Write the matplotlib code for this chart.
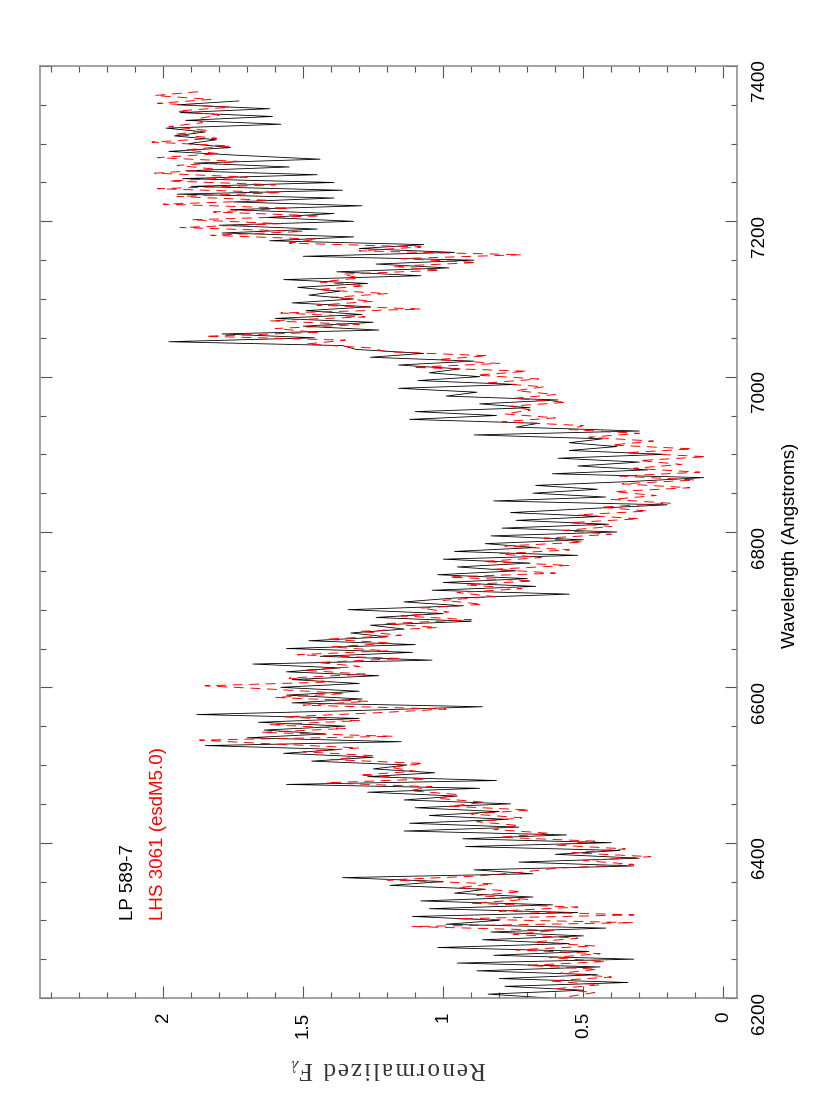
import numpy as np
import matplotlib.pyplot as plt
from matplotlib.ticker import MultipleLocator

plt.rcParams['font.family'] = ['Liberation Sans', 'DejaVu Sans']
plt.rcParams['mathtext.fontset'] = 'stix'

# Wavelength grids (Angstroms)
wave_lp = np.arange(6200, 7356, 5)
wave_lhs = np.arange(6202, 7368, 5)

# LP 589-7, renormalized flux
flux_lp = [
    0.62, 0.84, 0.50, 0.78, 0.34, 0.80, 0.45, 0.88, 0.44, 0.95,
    0.32, 0.82, 0.48, 1.02, 0.55, 0.86, 0.50, 0.83, 0.42, 0.99,
    0.80, 1.11, 0.52, 1.05, 0.61, 1.08, 0.68, 0.96, 0.85, 1.19,
    1.00, 1.36, 0.68, 0.89, 0.32, 0.73, 0.30, 0.60, 0.37, 0.92,
    0.40, 0.93, 0.56, 1.14, 0.73, 1.12, 0.77, 1.05, 0.80, 1.10,
    0.76, 1.14, 0.95, 1.27, 0.87, 1.56, 0.81, 1.27, 1.03, 1.25,
    1.13, 1.47, 1.25, 1.57, 1.37, 1.85, 1.15, 1.70, 1.42, 1.64,
    1.35, 1.66, 1.30, 1.88, 1.32, 0.86, 1.54, 1.29, 1.56, 1.30,
    1.58, 1.30, 1.54, 1.23, 1.56, 1.37, 1.68, 1.04, 1.44, 1.11,
    1.56, 1.10, 1.48, 1.20, 1.33, 1.14, 1.26, 0.90, 1.24, 1.00,
    1.34, 0.93, 1.14, 0.96, 0.55, 1.04, 0.67, 1.00, 0.70, 1.02,
    0.74, 0.95, 0.69, 1.00, 0.52, 0.96, 0.67, 0.85, 0.50, 0.83,
    0.38, 0.79, 0.41, 0.74, 0.44, 0.76, 0.49, 0.20, 0.82, 0.42,
    0.68, 0.45, 0.67, 0.33, 0.07, 0.61, 0.27, 0.52, 0.30, 0.59,
    0.21, 0.55, 0.38, 0.55, 0.43, 0.89, 0.30, 0.74, 0.66, 1.12,
    0.81, 1.10, 0.69, 0.87, 0.59, 0.99, 0.88, 1.16, 0.74, 1.09,
    0.87, 1.05, 0.94, 1.16, 0.89, 1.26, 1.07, 1.31, 1.36, 1.98,
    1.46, 1.79, 1.23, 1.50, 1.25, 1.60, 1.29, 1.49, 1.26, 1.54,
    1.32, 1.48, 1.37, 1.52, 1.27, 1.57, 1.08, 1.38, 0.98, 1.24,
    0.89, 1.50, 0.96, 1.30, 1.07, 1.62, 1.32, 1.79, 1.45, 1.80,
    1.32, 1.63, 1.39, 1.76, 1.29, 1.75, 1.39, 1.95, 1.36, 1.90,
    1.39, 1.93, 1.45, 1.92, 1.55, 1.89, 1.44, 1.73, 1.98, 1.76,
    1.91, 1.81, 1.96, 1.85, 1.99, 1.58, 1.92, 1.61, 1.94, 1.62,
    1.95, 1.73,
]

# LHS 3061 (esdM5.0), renormalized flux
flux_lhs = [
    0.55, 0.46, 0.60, 0.44, 0.62, 0.40, 0.58, 0.45, 0.70, 0.42,
    0.62, 0.44, 0.74, 0.46, 0.68, 0.52, 0.75, 0.60, 1.11, 0.32,
    0.95, 0.32, 0.80, 0.52, 0.90, 0.70, 0.88, 0.72, 0.95, 0.82,
    1.20, 0.88, 0.72, 0.60, 0.32, 0.50, 0.26, 0.54, 0.35, 0.60,
    0.46, 0.80, 0.62, 0.82, 0.73, 0.88, 0.72, 0.90, 0.69, 0.98,
    0.85, 1.02, 0.95, 1.12, 1.04, 1.42, 1.06, 1.30, 1.10, 1.19,
    1.07, 1.40, 1.25, 1.50, 1.30, 1.60, 1.87, 1.18, 1.65, 1.35,
    1.62, 1.30, 1.57, 1.25, 0.99, 1.50, 1.27, 1.60, 1.35, 1.58,
    1.85, 1.40, 1.55, 1.28, 1.50, 1.30, 1.45, 1.15, 1.52, 1.20,
    1.40, 1.18, 1.42, 1.15, 1.30, 1.02, 1.21, 0.90, 1.15, 0.98,
    1.08, 0.86, 1.00, 0.82, 0.95, 0.72, 0.92, 0.68, 0.98, 0.60,
    0.82, 0.55, 0.86, 0.65, 0.80, 0.55, 0.78, 0.50, 0.64, 0.40,
    0.57, 0.40, 0.55, 0.30, 0.52, 0.27, 0.44, 0.19, 0.40, 0.24,
    0.39, 0.12, 0.36, 0.10, 0.37, 0.085, 0.32, 0.15, 0.30, 0.06,
    0.35, 0.11, 0.40, 0.25, 0.48, 0.30, 0.55, 0.50, 0.79, 0.60,
    0.78, 0.69, 0.76, 0.56, 0.75, 0.60, 0.74, 0.64, 0.84, 0.66,
    0.88, 0.70, 1.11, 0.80, 1.02, 0.84, 1.20, 1.26, 1.49, 1.35,
    1.85, 1.45, 1.60, 1.30, 1.62, 1.28, 1.58, 1.08, 1.45, 1.25,
    1.40, 1.20, 1.45, 1.28, 1.44, 1.30, 1.36, 1.01, 1.18, 0.88,
    1.15, 0.72, 1.30, 1.08, 1.55, 1.45, 1.83, 1.50, 1.94, 1.58,
    1.90, 1.44, 1.82, 1.55, 2.00, 1.62, 1.95, 1.58, 2.02, 1.60,
    1.98, 1.70, 2.03, 1.81, 1.95, 1.72, 2.02, 1.80, 1.92, 1.76,
    2.04, 1.81, 1.96, 1.84, 1.98, 1.86, 1.88, 1.80, 1.95, 1.76,
    2.02, 1.83, 2.03, 1.87,
]

flux_ticks = [0, 0.5, 1, 1.5, 2]
flux_ticklabels = ['0', '0.5', '1', '1.5', '2']
wave_ticks = [6200, 6400, 6600, 6800, 7000, 7200, 7400]

fig = plt.figure(figsize=(8.3, 11.11), dpi=100)
ax = fig.add_axes([0.0482, 0.1017, 0.8398, 0.8389])

# plot is drawn sideways: flux runs right-to-left, wavelength upward
ax.plot(flux_lp, wave_lp, color='black', lw=0.6)
ax.plot(flux_lhs, wave_lhs, color='red', lw=0.7, dashes=(10, 7))

ax.set_xlim(2.44, -0.049)
ax.set_ylim(6200, 7400)
ax.set_xticks(flux_ticks)
ax.set_xticklabels(flux_ticklabels)
ax.xaxis.set_minor_locator(MultipleLocator(0.1))
ax.set_yticks(wave_ticks)
ax.yaxis.set_minor_locator(MultipleLocator(50))

ax.tick_params(which='both', direction='in', top=True, bottom=True,
               left=True, right=True, labelleft=False, labelright=True,
               color='#555555', width=0.8, labelsize=13.5)
ax.tick_params(which='major', length=8.6)
ax.tick_params(which='minor', length=4.3)
ax.tick_params(axis='y', labelrotation=90, pad=10)
ax.tick_params(axis='x', labelrotation=90, pad=10)
for sp in ax.spines.values():
    sp.set_color('#888888')
    sp.set_linewidth(1.1)

fig.text(790 / 830, 1 - 545 / 1111, 'Wavelength (Angstroms)', rotation=90,
         ha='center', va='center', fontsize=13.5)
# letter-spaced serif label, upside down like the rotated original
ylab = '\u200a'.join('Renormalized') + '\u2009\u2009F'
fig.text(388 / 830, 1 - 1068 / 1111, ylab + r'$_\lambda$', rotation=180,
         ha='center', va='center', fontsize=18,
         family=['Liberation Serif', 'DejaVu Serif'], color='#333333')

fig.text(128 / 830, 1 - 920 / 1111, 'LP 589-7', rotation=90,
         ha='center', va='bottom', color='black', fontsize=13.5)
fig.text(158 / 830, 1 - 920 / 1111, 'LHS 3061 (esdM5.0)', rotation=90,
         ha='center', va='bottom', color='red', fontsize=13.5)

fig.savefig('out.png', dpi=100)
